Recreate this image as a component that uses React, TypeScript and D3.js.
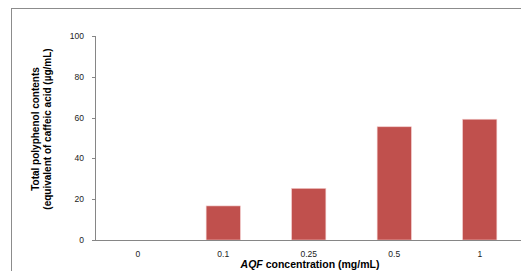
import React from "react";
import * as d3 from "d3";

const categories = ["0", "0.1", "0.25", "0.5", "1"];
const values = [0, 16.7, 25.3, 55.5, 59.2];
const yTicks = [0, 20, 40, 60, 80, 100];

export default function App() {
  const W = 521, H = 271;
  const x0 = 95, x1 = 522.5, yTop = 36, yBot = 240;
  const x = d3.scaleBand().domain(categories).range([x0, x1]).paddingInner(0.6).paddingOuter(0.3);
  const y = d3.scaleLinear().domain([0, 100]).range([yBot, yTop]);
  const axisColor = "#868686";
  const font = "'Liberation Sans', Arial, sans-serif";
  return (
    <svg width={W} height={H} style={{ position: "absolute", left: 0, top: 0 }}>
      <rect x={0} y={0} width={W} height={H} fill="#fff" />
      <rect x={11.5} y={8.5} width={W + 20} height={H + 20} fill="none" stroke="#8c8c8c" strokeWidth={1} />
      {categories.map((c, i) => (
        <rect key={c} x={x(c)!} y={y(values[i])} width={x.bandwidth()} height={yBot - y(values[i])}
          fill="#C0504D" stroke="#F2C9C8" strokeWidth={0.6} />
      ))}
      <line x1={x0 + 0.5} x2={x0 + 0.5} y1={yTop} y2={yBot} stroke={axisColor} />
      <line x1={x0} x2={x1} y1={yBot + 0.5} y2={yBot + 0.5} stroke={axisColor} />
      {yTicks.map(t => (
        <g key={t}>
          <line x1={x0 - 3} x2={x0} y1={Math.round(y(t)) + 0.5} y2={Math.round(y(t)) + 0.5} stroke={axisColor} />
          <text x={84} y={y(t) + 3} textAnchor="end" fontSize={8.5} fontFamily={font} fill="#222">{t}</text>
        </g>
      ))}
      {categories.map(c => (
        <text key={c} x={x(c)! + x.bandwidth() / 2} y={257} textAnchor="middle" fontSize={8.5} fontFamily={font} fill="#222">{c}</text>
      ))}
      <text x={310} y={268} textAnchor="middle" fontSize={10.5} fontWeight="bold" fontFamily={font} fill="#000">
        <tspan fontStyle="italic">AQF</tspan> concentration (mg/mL)
      </text>
      <g transform="translate(39,129) rotate(-90)">
        <text x={0} y={0} textAnchor="middle" fontSize={10} fontWeight="bold" fontFamily={font} fill="#000">Total polyphenol contents</text>
        <text x={0} y={11.5} textAnchor="middle" fontSize={10} fontWeight="bold" fontFamily={font} fill="#000">(equivalent  of caffeic acid (µg/mL)</text>
      </g>
    </svg>
  );
}
